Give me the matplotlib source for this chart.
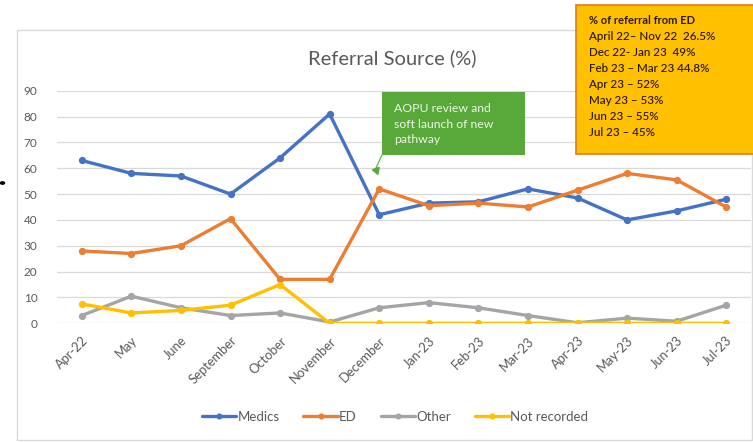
import matplotlib.pyplot as plt
from matplotlib.patches import Rectangle, Circle

plt.rcParams['font.family'] = ['Lato', 'DejaVu Sans']

months = ["Apr-22", "May", "June", "September", "October", "November", "December",
          "Jan-23", "Feb-23", "Mar-23", "Apr-23", "May-23", "Jun-23", "Jul-23"]

medics = [63, 58, 57, 50, 64, 81, 42, 46.5, 47, 52, 48.5, 40, 43.5, 48]
ed = [28, 27, 30, 40.5, 17, 17, 52, 45.5, 46.5, 45, 51.5, 58, 55.5, 45]
other = [3, 10.5, 6, 3, 4, 0.5, 6, 8, 6, 3, 0.2, 2, 0.8, 7]
not_recorded = [7.5, 4, 5, 7, 15, 0, 0, 0, 0, 0, 0, 0, 0, 0]

ed_notes = ["April 22\u2013 Nov 22  26.5%",
            "Dec 22- Jan 23  49%",
            "Feb 23 \u2013 Mar 23 44.8%",
            "Apr 23 \u2013 52%",
            "May 23 \u2013 53%",
            "Jun 23 \u2013 55%",
            "Jul 23 \u2013 45%"]

series = [("Medics", medics, "#4472C4"),
          ("ED", ed, "#ED7D31"),
          ("Other", other, "#A5A5A5"),
          ("Not recorded", not_recorded, "#FFC000")]

W, H = 753, 442
fig = plt.figure(figsize=(W / 100, H / 100), dpi=100)

# chart frame
fig.patches.append(Rectangle((17 / W, 1 - 440 / H), (752 - 17) / W, (440 - 30) / H,
                             transform=fig.transFigure, fill=False,
                             edgecolor="#D9D9D9", lw=1.0))
fig.patches.append(Circle((2.5 / W, 1 - 183 / H), 2 / W, transform=fig.transFigure,
                          color="black"))

ax = fig.add_axes([57 / W, 1 - 323.3 / H, (751 - 57) / W, (323.3 - 90.7) / H])
x = list(range(len(months)))
for name, vals, col in series:
    ax.plot(x, vals, color=col, lw=2.4, marker="o", ms=4.2, label=name,
            solid_capstyle="round", zorder=3)

ax.set_xlim(-0.5, len(months) - 0.5)
ax.set_ylim(0, 90)
ax.set_yticks(range(0, 91, 10))
ax.yaxis.grid(True, color="#D9D9D9", lw=0.9)
ax.set_axisbelow(True)
for s in ax.spines.values():
    s.set_visible(False)
ax.tick_params(length=0, colors="#595959", labelsize=8.5)
ax.tick_params(axis="y", pad=14)
ax.set_xticks(x)
ax.set_xticklabels(months, rotation=45, ha="right", rotation_mode="anchor",
                   fontsize=9.3)
ax.tick_params(axis="x", pad=8)

fig.text(392 / W, 1 - 58 / H, "Referral Source (%)", ha="center", va="center",
         fontsize=14.5, color="#595959")

ax.legend(loc="center", bbox_to_anchor=(395 / W, 1 - 417 / H),
          bbox_transform=fig.transFigure, ncol=4, frameon=False,
          fontsize=9.5, labelcolor="#595959", handlelength=2.6,
          handletextpad=0.1, columnspacing=1.8, markerscale=0.8)

# ED share box
fig.patches.append(Rectangle((576 / W, 1 - 154 / H), (760 - 576) / W, (154 - 5) / H,
                             transform=fig.transFigure, facecolor="#FFC000",
                             edgecolor="#E07B1A", lw=1.2, zorder=5))
fig.text(589 / W, 1 - 21 / H, "% of referral from ED", fontsize=8,
         fontweight="bold", color="#2B1A00", va="center", zorder=6)
for i, line in enumerate(ed_notes):
    fig.text(589 / W, 1 - (37 + 16 * i) / H, line, fontsize=8.4,
             fontweight="medium", color="#241500", va="center", zorder=6)

# pathway annotation
fig.patches.append(Rectangle((382 / W, 1 - 155 / H), (525 - 382) / W, (155 - 92) / H,
                             transform=fig.transFigure, facecolor="#58A83A",
                             edgecolor="none", zorder=5))
fig.text(394 / W, 1 - 124 / H, "AOPU review and\nsoft launch of new\npathway",
         fontsize=8.8, color="#EEF5E8", va="center", linespacing=1.45, zorder=6)
fig.lines.append(plt.Line2D([382 / W, 376 / W], [1 - 155 / H, 1 - 168 / H],
                            transform=fig.transFigure, color="#58A83A", lw=0.8))
fig.lines.append(plt.Line2D([375.5 / W], [1 - 170 / H], transform=fig.transFigure,
                            color="#58A83A", marker=(3, 0, 200), ms=6, lw=0))

fig.savefig("out.png", dpi=100)
